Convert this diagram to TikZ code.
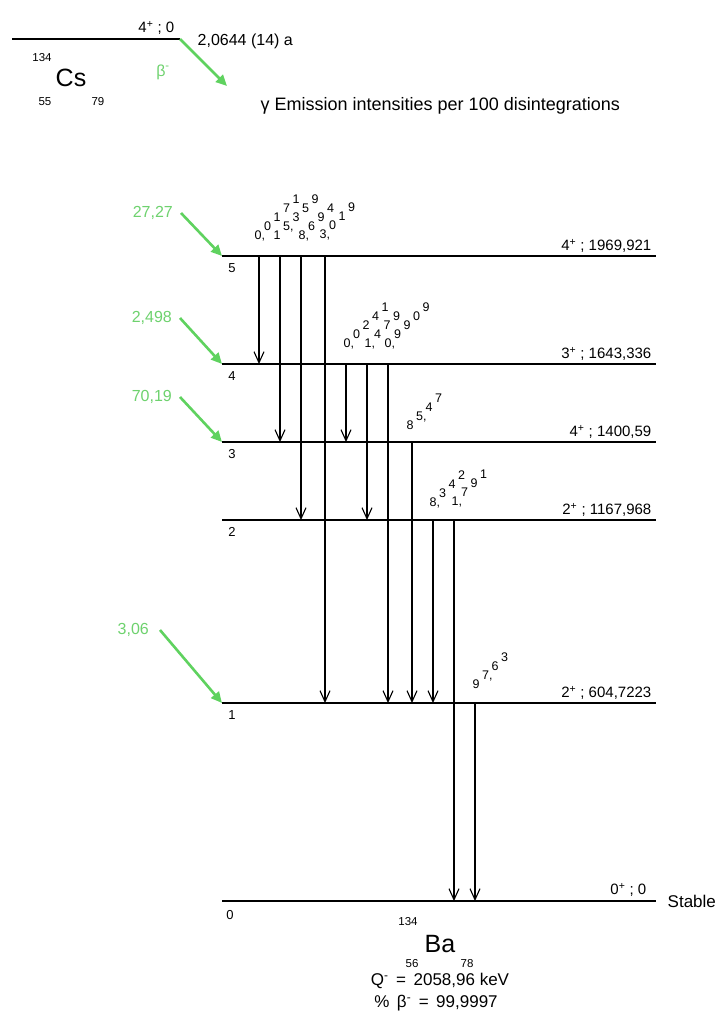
\documentclass[tikz,border=0pt]{standalone}
\usepackage{fontspec}
\setmainfont{Liberation Sans}
\usetikzlibrary{arrows.meta,calc}
\definecolor{grn}{RGB}{95,210,95}
\definecolor{grntxt}{RGB}{110,210,110}
\newcommand\glab[4]{\foreach \ch [count=\k] in {#4}{\node[gsm,anchor=base west] (#1-\k) at ({#2-3.5+(\k-1)*9.5},{#3+4.5-(\k-1)*9}) {\ch};}}
\begin{document}
\begin{tikzpicture}[x=1pt,y=-1pt,
  lvl/.style={line width=1.7pt},
  gam/.style={line width=1.3pt,-{Straight Barb[length=11pt,width=10pt,line width=1.1pt]}},
  betaarrow/.style={draw=grn,line width=2.6pt,-{Triangle[length=11pt,width=10pt]}},
  lab/.style={font=\fontsize{15}{17}\selectfont,inner sep=1.5pt},
  gsm/.style={font=\fontsize{12.5}{13}\selectfont,inner sep=0pt},
  num/.style={font=\fontsize{13}{14}\selectfont,inner sep=0pt},
  glabel/.style={font=\fontsize{16}{18}\selectfont,text=grntxt,inner sep=1pt},
  big/.style={font=\fontsize{25}{27}\selectfont,inner sep=0pt},
  small/.style={font=\fontsize{11.5}{12}\selectfont,inner sep=0pt}]
\path[use as bounding box,fill=white] (0,0) rectangle (727,1029);

% parent level
\coordinate (Pw) at (12,39);
\coordinate (Pe) at (180,39);
\draw[lvl] (Pw) -- (Pe);
\node[lab,anchor=south east] (pspin) at ($(Pe)+(-4,-3)$) {4\textsuperscript{+} ; 0};
\node[lab,anchor=west,font=\fontsize{16}{18}\selectfont] (half) at (196,41) {2,0644 (14) a};
\node[small] (csA) at (42,58) {134};
\node[big] (cs) at (71,78) {Cs};
\node[small] (csZ) at (45,102) {55};
\node[small] (csN) at (98,102) {79};
\coordinate (betaend) at (227,86);
\draw[betaarrow] (Pe) -- (betaend);
\node[glabel] (betalab) at (163,72) {β\textsuperscript{-}};

\node[lab,anchor=west,font=\fontsize{18}{20}\selectfont] (title) at (259,106) {γ Emission intensities per 100 disintegrations};

% daughter levels
\foreach \n/\y in {5/256,4/364,3/442,2/520,1/703,0/901}{
  \coordinate (L\n w) at (222,\y);
  \coordinate (L\n e) at (656,\y);
  \draw[lvl] (L\n w) -- (L\n e);
}
\node[num] (n5) at ($(L5w)+(10,12)$) {5};
\node[num] (n4) at ($(L4w)+(10,12)$) {4};
\node[num] (n3) at ($(L3w)+(10,12)$) {3};
\node[num] (n2) at ($(L2w)+(10,12)$) {2};
\node[num] (n1) at ($(L1w)+(10,12)$) {1};
\node[num] (n0) at ($(L0w)+(8,14)$) {0};

\node[lab,anchor=south east] (s5) at ($(L5e)+(-3,-2)$) {4\textsuperscript{+} ; 1969,921};
\node[lab,anchor=south east] (s4) at ($(L4e)+(-3,-2)$) {3\textsuperscript{+} ; 1643,336};
\node[lab,anchor=south east] (s3) at ($(L3e)+(-3,-2)$) {4\textsuperscript{+} ; 1400,59};
\node[lab,anchor=south east] (s2) at ($(L2e)+(-3,-2)$) {2\textsuperscript{+} ; 1167,968};
\node[lab,anchor=south east] (s1) at ($(L1e)+(-3,-2)$) {2\textsuperscript{+} ; 604,7223};
\node[lab,anchor=south east] (s0) at ($(L0e)+(-8,-3)$) {0\textsuperscript{+} ; 0};
\node[lab,anchor=west,font=\fontsize{17}{19}\selectfont] (stable) at ($(L0e)+(10,0)$) {Stable};

% gamma transitions
\foreach \dx/\a/\b in {37/5/4,58/5/3,79/5/2,103/5/1,124/4/3,145/4/2,166/4/1,190/3/1,211/2/1,232/2/0,253/1/0}{
  \draw[gam] ($(L\a w)+(\dx,0)$) -- ($(L\b w)+(\dx,0)$);
}

% gamma intensities
\glab{g51}{258}{235}{{0,},0,1,7,1}
\glab{g52}{277}{235}{1,{5,},3,5,9}
\glab{g53}{302}{235}{{8,},6,9,4}
\glab{g54}{323}{234}{{3,},0,1,9}
\glab{g43}{347}{343}{{0,},0,2,4,1}
\glab{g42}{368}{343}{{1,},4,7,9}
\glab{g41}{388}{343}{{0,},9,9,0,9}
\glab{g31}{410}{425}{8,{5,},4,7}
\glab{g21}{433}{502}{{8,},3,4,2}
\glab{g20}{455}{501}{{1,},7,9,1}
\glab{g10}{476}{684}{9,{7,},6,3}

% beta feeding
\node[glabel,anchor=east] (b5) at (174,213) {27,27};
\node[glabel,anchor=east] (b4) at (173,318) {2,498};
\node[glabel,anchor=east] (b3) at (173,397) {70,19};
\node[glabel,anchor=east] (b1) at (150,630) {3,06};
\draw[betaarrow] ($(b5.east)+(7,0)$) -- (L5w);
\draw[betaarrow] ($(b4.east)+(7,0)$) -- (L4w);
\draw[betaarrow] ($(b3.east)+(7,0)$) -- (L3w);
\draw[betaarrow] ($(b1.east)+(10,0)$) -- (L1w);

% daughter nucleus
\node[small] (baA) at (408,922) {134};
\node[big] (ba) at (440,944) {Ba};
\node[small] (baZ) at (412,964) {56};
\node[small] (baN) at (467,964) {78};
\node[lab,font=\fontsize{17}{19}\selectfont] (q) at (440,981) {Q\textsuperscript{-}\, = \,2058,96 keV};
\node[lab,font=\fontsize{17}{19}\selectfont] (br) at (436,1003) {\%\, β\textsuperscript{-}\, = \,99,9997};
\end{tikzpicture}
\end{document}
